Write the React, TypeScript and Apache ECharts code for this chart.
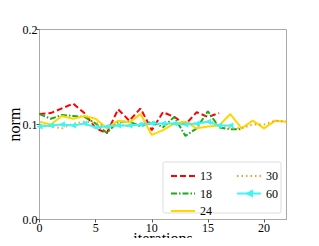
import React, { useEffect, useRef } from "react";
import * as echarts from "echarts";

const iterations = Array.from({ length: 23 }, (_, i) => i);
const s13 = [0.111, 0.112, 0.117, 0.122, 0.112, 0.096, 0.091, 0.116, 0.104, 0.117, 0.094, 0.113, 0.108, 0.1, 0.113, 0.108, 0.112];
const s18 = [0.111, 0.106, 0.11, 0.109, 0.108, 0.101, 0.091, 0.103, 0.103, 0.098, 0.103, 0.097, 0.108, 0.088, 0.096, 0.114, 0.097, 0.095, 0.095];
const s24 = [0.103, 0.1, 0.109, 0.106, 0.109, 0.106, 0.096, 0.104, 0.102, 0.111, 0.089, 0.094, 0.101, 0.103, 0.096, 0.098, 0.099, 0.111, 0.096, 0.104, 0.096, 0.104, 0.103];
const s30 = [0.1, 0.098, 0.096, 0.101, 0.103, 0.102, 0.097, 0.1, 0.098, 0.101, 0.101, 0.1, 0.101, 0.101, 0.101, 0.103, 0.101, 0.096, 0.096, 0.1, 0.1, 0.104, 0.103];
const s60 = [0.098, 0.099, 0.1, 0.099, 0.101, 0.097, 0.098, 0.099, 0.099, 0.1, 0.101, 0.101, 0.101, 0.1, 0.101, 0.103, 0.099, 0.099];

const FONT = "Liberation Serif";

function pairs(vals: number[]) {
  return vals.map((v, i) => [iterations[i], v]);
}

export default function App() {
  const ref = useRef<HTMLDivElement>(null);
  useEffect(() => {
    const chart = echarts.init(ref.current!, null, { renderer: "svg" });
    const lineSeries = (name: string, vals: number[], color: string, type: any, extra: any = {}) => ({
      name,
      type: "line",
      data: pairs(vals),
      symbol: "none",
      lineStyle: { color, width: 2, type },
      itemStyle: { color },
      z: 3,
      ...extra,
    });
    const hidden = { opacity: 0 };
    const legendText = { fontFamily: FONT, fontSize: 12, color: "#000" };
    chart.setOption({
      animation: false,
      textStyle: { fontFamily: FONT },
      grid: {
        left: 39.5,
        right: 32.5,
        top: 29.5,
        bottom: 26.5,
        show: true,
        borderColor: "#aaaaaa",
        borderWidth: 1,
        outerBoundsMode: "none",
        containLabel: false,
      },
      xAxis: {
        type: "value",
        min: 0,
        max: 22,
        interval: 5,
        axisLine: { show: true, onZero: false, lineStyle: { color: "#aaaaaa" } },
        axisTick: { show: true, length: 3, lineStyle: { color: "#555" } },
        axisLabel: { fontFamily: FONT, fontSize: 12, color: "#000", margin: 2, showMaxLabel: false },
        splitLine: { show: false },
      },
      yAxis: {
        type: "value",
        min: 0,
        max: 0.2,
        interval: 0.1,
        name: "norm",
        nameLocation: "middle",
        nameGap: 17,
        nameMoveOverlap: false,
        nameTextStyle: { fontFamily: FONT, fontSize: 16, color: "#000" },
        axisLine: { show: true, lineStyle: { color: "#aaaaaa" } },
        axisTick: { show: true, length: 3, lineStyle: { color: "#555" } },
        axisLabel: { fontFamily: FONT, fontSize: 12, color: "#000", margin: 2, formatter: (v: number) => v.toFixed(1) },
        splitLine: { show: false },
      },
      graphic: [
        {
          type: "rect",
          shape: { x: 163, y: 162, width: 118, height: 51, r: 2 },
          style: { fill: "#fff", stroke: "#dddddd", lineWidth: 1 },
          z: 10,
        },
        {
          type: "text",
          x: 163,
          y: 238.5,
          style: {
            text: "iterations",
            fontFamily: FONT,
            fontSize: 16,
            fill: "#000",
            align: "center",
            verticalAlign: "middle",
          },
          z: 10,
        },
      ],
      legend: [
        {
          data: [
            { name: "13", itemStyle: hidden },
            { name: "18", itemStyle: hidden },
            { name: "24", itemStyle: hidden },
          ],
          orient: "vertical",
          left: 165,
          top: 165,
          itemWidth: 24,
          itemHeight: 10,
          itemGap: 5.5,
          textStyle: legendText,
          z: 20,
        },
        {
          data: [{ name: "30", itemStyle: hidden }, { name: "60" }],
          orient: "vertical",
          left: 231,
          top: 165,
          itemWidth: 24,
          itemHeight: 10,
          itemGap: 5.5,
          textStyle: legendText,
          z: 20,
        },
      ],
      series: [
        lineSeries("13", s13, "#ff0000", [6, 3]),
        lineSeries("18", s18, "#1aaa1a", [6, 2, 1.5, 2]),
        lineSeries("24", s24, "#ffd700", "solid"),
        lineSeries("30", s30, "#ff9a2e", [1.5, 3]),
        lineSeries("60", s60, "#40f4f4", "solid", {
          symbol: "triangle",
          symbolSize: 6,
          symbolRotate: 90,
          showSymbol: true,
        }),
      ],
    });
    return () => chart.dispose();
  }, []);
  return <div ref={ref} style={{ width: 319, height: 246, margin: -8 }} />;
}
